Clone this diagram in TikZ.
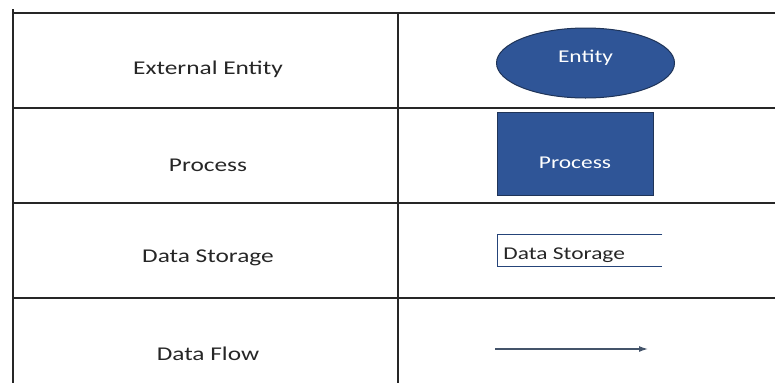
\documentclass[tikz,border=0pt]{standalone}
\usepackage{fontspec}
\setmainfont[FakeStretch=1.3]{Carlito}
\usetikzlibrary{arrows.meta,positioning,calc,shapes.geometric}
\definecolor{dfdblue}{HTML}{2F5597}
\definecolor{dfdedge}{HTML}{1F3458}
\definecolor{flowgray}{HTML}{44546A}
\definecolor{ink}{HTML}{262626}

\begin{document}
\begin{tikzpicture}[x=1pt,y=-1pt,>=Latex,
 grid/.style={draw=ink,line width=1.2pt},
 lbl/.style={font=\fontsize{19.5}{22}\selectfont,text=ink},
 sym/.style={fill=dfdblue,draw=dfdedge,line width=1pt,text=white,inner sep=0pt,font=\fontsize{18}{20}\selectfont},
 store/.style={minimum width=165pt,minimum height=31pt,inner sep=6pt,anchor=west,text=ink,font=\fontsize{18}{20}\selectfont}]
 \useasboundingbox (0,0) rectangle (775,383);
 % table rules
 \draw[grid,line width=2pt] (12.5,9)--(12.5,383);
 \draw[grid] (12.5,13)--(775,13);
 \draw[grid] (398,13)--(398,383);
 \foreach \y in {108,203,298} \draw[grid] (12.5,\y)--(775,\y);
 % left column names
 \node[lbl] (extname) at (208,69) {External Entity};
 \node[lbl] (procname) at (208,165) {Process};
 \node[lbl] (storename) at (208,258) {Data Storage};
 \node[lbl] (flowname) at (208,354) {Data Flow};
 % symbols
 \node[sym,ellipse,minimum width=178pt,minimum height=70pt] (entity) at (585.5,63) {\raisebox{1pt}[0pt][0pt]{Entity}};
 \node[sym,rectangle,minimum width=156pt,minimum height=83pt] (proc) at (575,153.5) {\raisebox{-14.5pt}[0pt][0pt]{Process}};
 \node[store] (store) at (497,250.5) {\raisebox{-8.5pt}[0pt][0pt]{Data Storage}\hspace*{31pt}};
 \draw[dfdblue!80!black,line width=1pt] (store.north east)--(store.north west)--(store.south west)--(store.south east);
 \coordinate (flowfrom) at (495,349);
 \coordinate (flowto) at (648,349);
 \draw[->,flowgray,line width=1.3pt,>={Latex[length=9pt,width=6pt]}] (flowfrom)--(flowto);
\end{tikzpicture}
\end{document}
